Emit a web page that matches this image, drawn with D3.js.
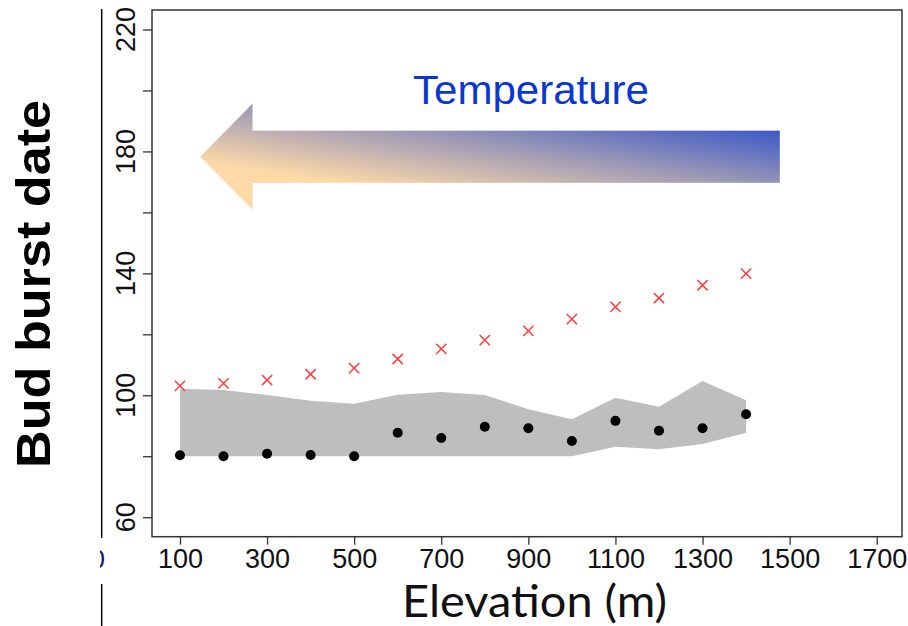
<!DOCTYPE html>
<html lang="en">
<head>
    <style>
        body { margin: 0; background: #fff; }
        svg { display: block; }
    </style>
    <title>Bud burst date</title>
</head>
<body>
<script src="https://d3js.org/d3.v7.min.js"></script>
<div id="chart"></div>
<script>
// data
const elevation = [100, 200, 300, 400, 500, 600, 700, 800, 900, 1000, 1100, 1200, 1300, 1400];
const observed  = [80.3, 80.0, 80.8, 80.4, 80.0, 87.7, 86.0, 89.7, 89.2, 85.0, 91.6, 88.4, 89.2, 93.8];
const predicted = [103.1, 103.9, 105.0, 106.9, 108.9, 111.9, 115.2, 118.1, 121.1, 125.0, 129.0, 131.9, 136.1, 139.9];
const bandLow   = [80, 80, 80, 80, 80, 80, 80, 80, 80, 80, 83.1, 82.3, 84.0, 87.7];
const bandHigh  = [102.1, 101.7, 100.1, 98.2, 97.2, 100.2, 101.1, 100.1, 95.4, 92.1, 99.2, 96.2, 104.7, 98.4];

const xTicks = [100, 300, 500, 700, 900, 1100, 1300, 1500, 1700];
const yTicks = [60, 80, 100, 120, 140, 160, 180, 200, 220];
const yLabels = [60, 100, 140, 180, 220];

const w = 908;
const h = 626;

const svg = d3.select("#chart")
    .append("svg")
    .attr("width", w)
    .attr("height", h);

const x = d3.scaleLinear().domain([36, 1764]).range([152.1, 904.6]);
const y = d3.scaleLinear().domain([53.6, 226.4]).range([536.7, 10]);

const defs = svg.append("defs");
const grad = defs.append("linearGradient")
    .attr("id", "temp")
    .attr("gradientUnits", "userSpaceOnUse")
    .attr("x1", 483).attr("y1", 205)
    .attr("x2", 502).attr("y2", 81);
grad.append("stop").attr("offset", 0).attr("stop-color", "#fdd9a7");
grad.append("stop").attr("offset", 0.5).attr("stop-color", "#9a97b6");
grad.append("stop").attr("offset", 1).attr("stop-color", "#2f51c9");

defs.append("clipPath").attr("id", "cut")
    .append("rect").attr("x", 100).attr("y", 540).attr("width", 5).attr("height", 35);

// shaded range
const rows = elevation.map((e, i) => ({e: e, lo: bandLow[i], hi: bandHigh[i]}));
svg.append("path")
    .datum(rows)
    .attr("fill", "#bebebe")
    .attr("d", d3.area()
        .x(d => x(d.e))
        .y0(d => y(d.lo))
        .y1(d => y(d.hi)));

// predicted dates (crosses)
svg.selectAll("path.cross")
    .data(elevation)
    .enter().append("path")
    .attr("class", "cross")
    .attr("d", d3.symbol().type(d3.symbolX).size(70))
    .attr("transform", (d, i) => "translate(" + x(d) + "," + y(predicted[i]) + ")")
    .attr("fill", "none")
    .attr("stroke", "#ff3b3b")
    .attr("stroke-width", 1.5);

// observed dates
svg.selectAll("circle")
    .data(elevation)
    .enter().append("circle")
    .attr("cx", d => x(d))
    .attr("cy", (d, i) => y(observed[i]))
    .attr("r", 5)
    .attr("fill", "#000");

// plot box
svg.append("rect")
    .attr("x", 152).attr("y", 10)
    .attr("width", 750).attr("height", 526.7)
    .attr("fill", "none")
    .attr("stroke", "#333")
    .attr("stroke-width", 1.5);

// axes
const xAxis = svg.append("g")
    .attr("transform", "translate(0,536.7)")
    .call(d3.axisBottom(x).tickValues(xTicks).tickSize(8).tickPadding(4).tickFormat(d3.format("d")));
xAxis.select(".domain").remove();
xAxis.selectAll("line").attr("stroke", "#333").attr("stroke-width", 1.3);
xAxis.selectAll("text")
    .attr("font-family", "Liberation Sans, Arial, sans-serif")
    .attr("font-size", 27)
    .attr("fill", "#111");

const yAxis = svg.append("g")
    .attr("transform", "translate(152,0)")
    .call(d3.axisLeft(y).tickValues(yTicks).tickSize(9).tickFormat(""));
yAxis.select(".domain").remove();
yAxis.selectAll("line").attr("stroke", "#333").attr("stroke-width", 1.3);

svg.selectAll("text.ylab")
    .data(yLabels)
    .enter().append("text")
    .attr("class", "ylab")
    .attr("transform", d => "translate(135," + y(d) + ") rotate(-90)")
    .attr("text-anchor", "middle")
    .attr("font-family", "Liberation Sans, Arial, sans-serif")
    .attr("font-size", 27)
    .attr("fill", "#111")
    .text(d => d);

// titles
svg.append("text")
    .attr("transform", "translate(50,284) rotate(-90)")
    .attr("text-anchor", "middle")
    .attr("font-family", "Liberation Sans, Arial, sans-serif")
    .attr("font-weight", "bold")
    .attr("font-size", 49)
    .attr("textLength", 368)
    .attr("lengthAdjust", "spacingAndGlyphs")
    .attr("fill", "#000")
    .text("Bud burst date");

svg.append("text")
    .attr("x", 402).attr("y", 616.5)
    .attr("font-family", "Lato, sans-serif")
    .attr("font-size", 44)
    .attr("textLength", 265)
    .attr("lengthAdjust", "spacingAndGlyphs")
    .attr("fill", "#111")
    .text("Elevation (m)");

// temperature arrow
svg.append("path")
    .attr("d", "M200,156.7 L252.7,103.3 L252.7,130.5 L780,130.5 L780,183 L252.7,183 L252.7,210 Z")
    .attr("fill", "url(#temp)")
    .attr("stroke", "#ffffff")
    .attr("stroke-opacity", 0.35)
    .attr("stroke-width", 1);

svg.append("text")
    .attr("x", 413).attr("y", 104)
    .attr("font-family", "Liberation Sans, Arial, sans-serif")
    .attr("font-size", 41)
    .attr("textLength", 236)
    .attr("lengthAdjust", "spacingAndGlyphs")
    .attr("fill", "#0a37d0")
    .text("Temperature");

// leftover bits at the left edge
svg.append("line")
    .attr("x1", 101.7).attr("x2", 101.7).attr("y1", 9).attr("y2", 538)
    .attr("stroke", "#000").attr("stroke-width", 1.5);
svg.append("line")
    .attr("x1", 101.7).attr("x2", 101.7).attr("y1", 584).attr("y2", 626)
    .attr("stroke", "#000").attr("stroke-width", 1.5);
svg.append("text")
    .attr("x", 105).attr("y", 568)
    .attr("text-anchor", "end")
    .attr("clip-path", "url(#cut)")
    .attr("font-family", "Liberation Sans, Arial, sans-serif")
    .attr("font-size", 26)
    .attr("fill", "#14145a")
    .text("0");
</script>
</body>
</html>
